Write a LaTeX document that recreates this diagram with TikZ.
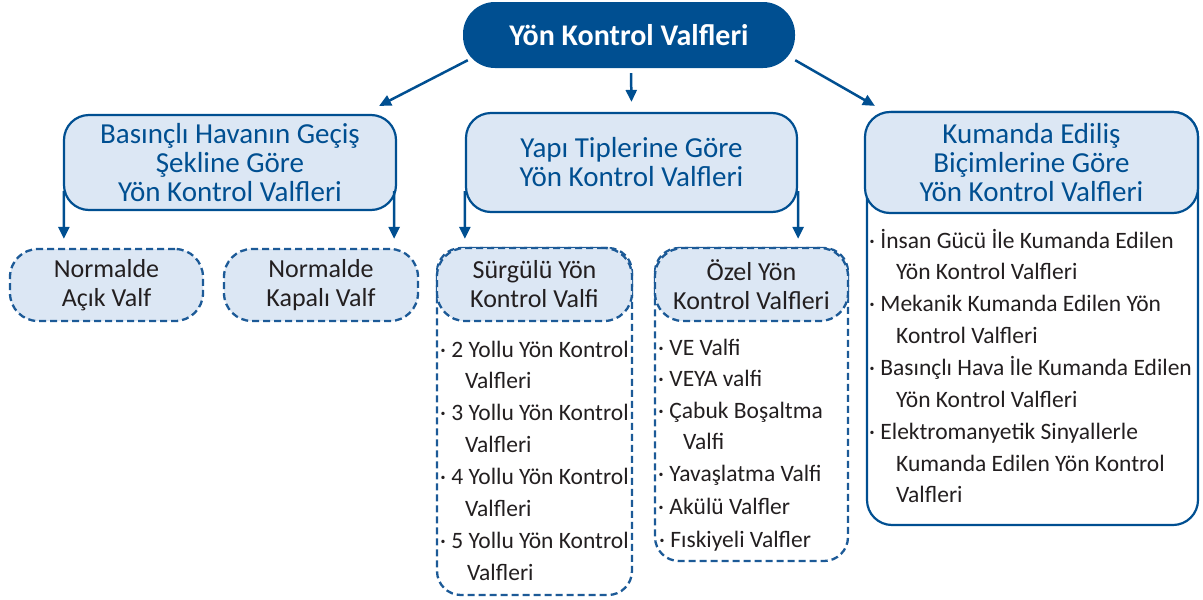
\documentclass[tikz,border=0pt]{standalone}
\usepackage{fontspec}
\setmainfont{Carlito}
\usetikzlibrary{arrows.meta,calc}
\definecolor{dblue}{HTML}{004F91}
\definecolor{lblue}{HTML}{DCE7F4}
\definecolor{tgray}{HTML}{231F20}
\definecolor{dashblue}{HTML}{1C5A97}
\begin{document}
\begin{tikzpicture}[x=1pt,y=-1pt,
  mainbox/.style={rounded corners=32pt, fill=dblue, text=white, font=\fontsize{30}{34}\selectfont\bfseries, minimum width=332pt, minimum height=66pt, inner sep=0pt},
  catbox/.style={rounded corners=25pt, draw=dblue, line width=2.2pt, fill=lblue, text=dblue, align=center, font=\fontsize{29}{29}\selectfont, inner sep=0pt},
  dashline/.style={draw=dashblue, line width=2.3pt, dash pattern=on 7pt off 4pt},
  subbox/.style={dashline, rounded corners=28pt, fill=lblue, text=tgray, align=center, font=\fontsize{26}{29}\selectfont, inner sep=0pt},
  listbox/.style={dashline, rounded corners=24pt, fill=white, inner sep=0pt},
  item/.style={anchor=west, inner sep=0pt, text height=15pt, text depth=0pt, text=tgray, font=\fontsize{23.5}{28}\selectfont},
  arr/.style={draw=dblue, line width=2.5pt, -{Triangle[length=12pt,width=11pt]}}]
\useasboundingbox (0,0) rectangle (1203,600);

% top
\node[mainbox] (top) at (629,35) {Yön Kontrol Valfleri};

% categories
\node[catbox, minimum width=332pt, minimum height=95pt] (bas) at (230,162.5) {Basınçlı Havanın Geçiş\\Şekline Göre\\Yön Kontrol Valfleri};
\node[catbox, minimum width=331pt, minimum height=99pt] (yapi) at (631.5,162.5) {Yapı Tiplerine Göre\\Yön Kontrol Valfleri};
\node[draw=dblue, line width=2.2pt, rounded corners=25pt, fill=white, minimum width=331pt, minimum height=413pt, inner sep=0pt] (kumbox) at (1032.5,318.5) {};
\node[catbox, minimum width=333pt, minimum height=101pt] (kum) at (1031.5,162.5) {Kumanda Ediliş\\Biçimlerine Göre\\Yön Kontrol Valfleri};

% sub nodes
\node[subbox, minimum width=193pt, minimum height=72pt] (nA) at (106.5,285) {Normalde\\Açık Valf};
\node[subbox, minimum width=194pt, minimum height=72pt] (nB) at (321,285) {Normalde\\Kapalı Valf};

\node[listbox, minimum width=195pt, minimum height=347pt] (surgbox) at (534.5,421.5) {};
\node[subbox, minimum width=195pt, minimum height=73pt] (surg) at (534.5,284.5) {Sürgülü Yön\\Kontrol Valfi};
\node[listbox, minimum width=193pt, minimum height=313pt] (ozelbox) at (751.5,404.5) {};
\node[subbox, minimum width=193pt, minimum height=73pt] (ozel) at (751.5,284.5) {Özel Yön\\Kontrol Valfleri};

% lists
\foreach \x/\y/\t [count=\i] in {440/350/{·\ 2 Yollu Yön Kontrol}, 465/381/Valfleri, 440/413/{·\ 3 Yollu Yön Kontrol}, 465/445/Valfleri, 440/477/{·\ 4 Yollu Yön Kontrol}, 465/509/Valfleri, 440/541/{·\ 5 Yollu Yön Kontrol}, 467/573/Valfleri}
  \node[item] (s\i) at (\x,\y) {\t};
\foreach \x/\y/\t [count=\i] in {658/348/{·\ VE Valfi}, 658/379/{·\ VEYA valfi}, 658/411/{·\ Çabuk Boşaltma}, 683/442/Valfi, 658/474/{·\ Yavaşlatma Valfi}, 658/507/{·\ Akülü Valfler}, 659/540/{·\ Fıskiyeli Valfler}}
  \node[item] (o\i) at (\x,\y) {\t};
\foreach \x/\y/\t [count=\i] in {869/241/{·\ İnsan Gücü İle Kumanda Edilen}, 896/272/{Yön Kontrol Valfleri}, 869/304/{·\ Mekanik Kumanda Edilen Yön}, 896/336/{Kontrol Valfleri}, 869/368/{·\ Basınçlı Hava İle Kumanda Edilen}, 896/400/{Yön Kontrol Valfleri}, 869/432/{·\ Elektromanyetik Sinyallerle}, 896/464/{Kumanda Edilen Yön Kontrol}, 896/495/Valfleri}
  \node[item] (k\i) at (\x,\y) {\t};

% arrows
\draw[arr] ($(top.south west)+(5,-8)$) -- ($(bas.north east)+(-18,-8)$);
\draw[arr] ($(top.south)+(2,5)$) -- ($(yapi.north)+(0,-10)$);
\draw[arr] ($(top.south east)+(0,-8)$) -- ($(kum.north west)+(11,-5)$);

\draw[arr] ($(bas.south west)+(1,-20)$) -- ($(nA.north west)+(55,-9)$);
\draw[arr] ($(bas.south east)+(-3,-20)$) -- ($(nB.north east)+(-25,-9)$);
\draw[arr] ($(yapi.south west)+(0,-22)$) -- ($(surg.north west)+(29,-8)$);
\draw[arr] ($(yapi.south east)+(0,-22)$) -- ($(ozel.north east)+(-51,-8)$);
\end{tikzpicture}
\end{document}
